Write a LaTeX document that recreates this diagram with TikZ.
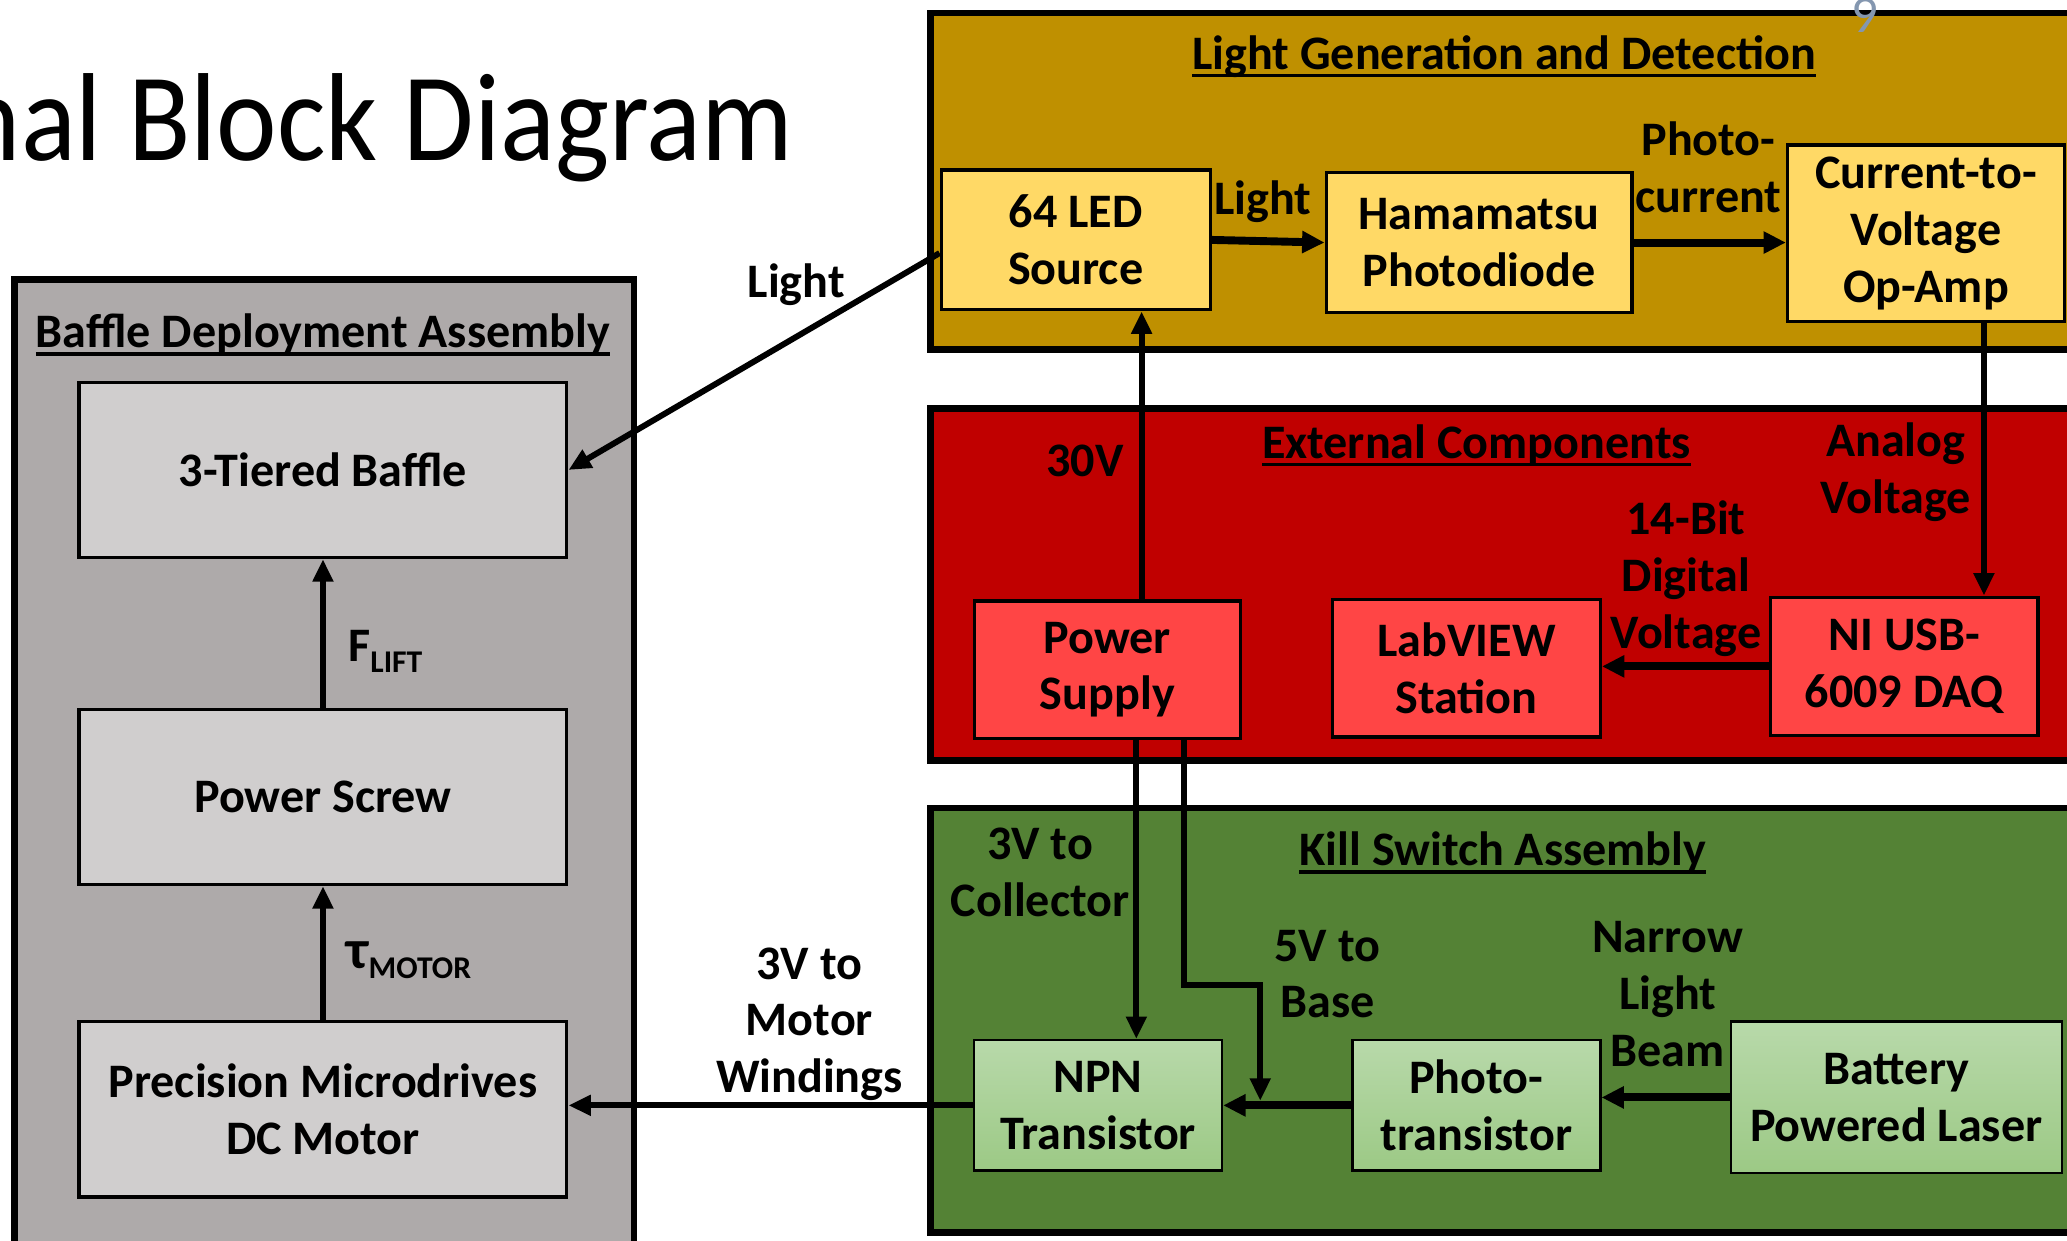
\documentclass[tikz,border=0pt]{standalone}
\usepackage{fontspec}
\setmainfont{Carlito}
\usetikzlibrary{arrows.meta,calc}
\definecolor{goldbg}{HTML}{BF9000}
\definecolor{goldbox}{HTML}{FFD966}
\definecolor{redbg}{HTML}{C00000}
\definecolor{redbox}{HTML}{FF4545}
\definecolor{greenbg}{HTML}{548235}
\definecolor{greentop}{HTML}{B8D9AA}
\definecolor{greenbot}{HTML}{9CC985}
\definecolor{greybg}{HTML}{AEAAAA}
\definecolor{greybox}{HTML}{D0CECE}
\definecolor{pagenum}{HTML}{8497B0}
\newcommand\myul[1]{\setbox0\hbox{#1}\rlap{\rule[-6pt]{\wd0}{2.5pt}}\box0}
\newcommand\bigtxt{\fontsize{36.5}{43}\selectfont\bfseries}
\tikzset{
  cont/.style={draw=black, line width=5pt, fill=#1, rectangle, inner sep=0pt},
  blk/.style={draw=black, line width=2.5pt, fill=#1, rectangle, inner sep=0pt, align=center,
    font=\bigtxt},
  gblk/.style={draw=black, line width=1.8pt, top color=greentop, bottom color=greenbot, rectangle,
    inner sep=0pt, align=center, font=\bigtxt},
  lbl/.style={inner sep=0pt, align=center, font=\bigtxt},
  ttl/.style={inner sep=0pt, font=\bigtxt},
  arr/.style={line width=4.5pt, -{Triangle[length=17pt,width=15pt]}},
  tarr/.style={line width=6pt, -{Triangle[length=17pt,width=16pt]}},
}
\begin{document}
\begin{tikzpicture}[x=1pt,y=-1pt]
\useasboundingbox (0,0) rectangle (1568,941);
\fill[white] (0,0) rectangle (1568,941);
% title
\node[inner sep=0pt, anchor=base east, font=\fontsize{95}{110}\selectfont] (title) at (602,122) {\scalebox{0.915}[1]{nal Block Diagram}};
% containers
\node[cont=goldbg, minimum width=894, minimum height=255] (gold) at (1153,137.5) {};
\node[cont=redbg, minimum width=894, minimum height=267] (red) at (1153,443.5) {};
\node[cont=greenbg, minimum width=894, minimum height=322] (green) at (1153,774) {};
\node[cont=greybg, minimum width=470, minimum height=738] (grey) at (246,581) {};
% page number (drawn over the gold box)
\node[inner sep=0pt, anchor=base, text=pagenum, font=\fontsize{40}{42}\selectfont] (pnum) at (1415,25) {9};
% titles
\node[ttl] (tgold) at (1141,43) {\myul{Light Generation and Detection}};
\node[ttl] (tred) at (1120,338) {\myul{External Components}};
\node[ttl] (tgreen) at (1140,647) {\myul{Kill Switch Assembly}};
\node[ttl] (tgrey) at (245,254) {\myul{Baffle Deployment Assembly}};
% gold blocks
\node[blk=goldbox, minimum width=204, minimum height=106] (led) at (816,182) {64 LED\\Source};
\node[blk=goldbox, minimum width=232, minimum height=106] (hama) at (1122,184) {Hamamatsu\\Photodiode};
\node[blk=goldbox, minimum width=210, minimum height=134] (opamp) at (1461,177) {Current-to-\\Voltage\\Op-Amp};
% red blocks
\node[blk=redbox, minimum width=202, minimum height=104] (ps) at (840,508) {Power\\Supply};
\node[blk=redbox, minimum width=203, minimum height=104] (lab) at (1112.5,507) {LabVIEW\\Station};
\node[blk=redbox, minimum width=203, minimum height=105] (daq) at (1444.5,505.5) {NI USB-\\6009 DAQ};
% green blocks
\node[gblk, minimum width=188, minimum height=99] (npn) at (833,838.5) {NPN\\Transistor};
\node[gblk, minimum width=188, minimum height=99] (photo) at (1120,838.5) {Photo-\\transistor};
\node[gblk, minimum width=251, minimum height=115] (laser) at (1438.5,832.5) {Battery\\Powered Laser};
% grey blocks
\node[blk=greybox, minimum width=370, minimum height=133] (baffle) at (245,356.5) {3-Tiered Baffle};
\node[blk=greybox, minimum width=370, minimum height=133] (screw) at (245,604.5) {Power Screw};
\node[blk=greybox, minimum width=370, minimum height=133] (motor) at (245,841.5) {Precision Microdrives\\DC Motor};
% labels
\node[lbl] (llight) at (958,153) {Light};
\node[lbl] (lphoto) at (1296,127) {Photo-\\current};
\node[lbl] (lout) at (604,216) {Light};
\node[lbl] (l30) at (823,350) {30V};
\node[lbl] (lanalog) at (1438,358) {Analog\\Voltage};
\node[lbl] (ldig) at (1279,439) {14-Bit\\Digital\\Voltage};
\node[lbl] (lcoll) at (789,662) {3V to\\Collector};
\node[lbl] (lbase) at (1007,739) {5V to\\Base};
\node[lbl] (lbeam) at (1265,754) {Narrow\\Light\\Beam};
\node[lbl] (lwind) at (614,777) {3V to\\Motor\\Windings};
\node[lbl, anchor=base west] (lflift) at (264,502) {F\raisebox{-8pt}{\fontsize{24}{24}\selectfont LIFT}};
\node[lbl, anchor=base west] (ltau) at (263,735) {{\fontsize{42}{42}\selectfont τ}\raisebox{-7pt}{\fontsize{24}{24}\selectfont MOTOR}};
% connectors
\coordinate (bend) at (956,747);
\coordinate (basetip) at (956,835);
\draw[tarr] (led.east) -- (hama.west);
\draw[tarr] (hama.east) -- (hama.east -| opamp.west);
\draw[arr] ([yshift=-10pt]led.west) -- (baffle.east);
\draw[arr] ([xshift=26pt]ps.north) -- ([xshift=26pt]ps.north |- led.south);
\draw[arr] ([xshift=44pt]opamp.south) -- ([xshift=44pt]opamp.south |- daq.north);
\draw[tarr] (daq.west) -- (daq.west -| lab.east);
\draw[arr] ([xshift=22pt]ps.south) -- ([xshift=22pt]ps.south |- npn.north);
\draw[arr] ([xshift=58pt]ps.south) |- (bend) -- (basetip);
\draw[tarr] (photo.west) -- (npn.east);
\draw[tarr] (laser.west) -- (laser.west -| photo.east);
\draw[arr] (npn.west) -- (npn.west -| motor.east);
\draw[arr] (screw.north) -- (baffle.south);
\draw[arr] (motor.north) -- (screw.south);
\end{tikzpicture}
\end{document}
